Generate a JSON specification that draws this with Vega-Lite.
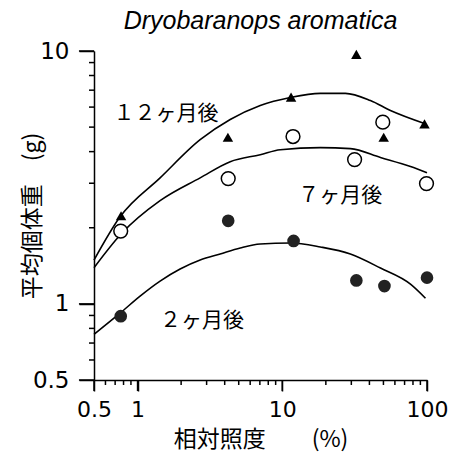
{
  "$schema": "https://vega.github.io/schema/vega-lite/v6.json",
  "width": 333,
  "height": 329,
  "autosize": {"type": "none"},
  "padding": {"left": 94, "top": 51, "right": 26, "bottom": 82},
  "background": "white",
  "title": {
    "text": "Dryobaranops aromatica",
    "font": "Liberation Sans",
    "fontStyle": "italic",
    "fontWeight": "normal",
    "fontSize": 25,
    "color": "black",
    "anchor": "middle",
    "offset": 6
  },
  "config": {
    "view": {"stroke": null},
    "axis": {
      "grid": false,
      "labelColor": "black",
      "titleColor": "black",
      "tickColor": "black"
    }
  },
  "resolve": {"axis": {"x": "independent", "y": "independent"}},
  "datasets": {
    "curves": [
      {"series": "12", "x": 0.5, "y": 1.49},
      {"series": "12", "x": 0.757, "y": 2.21},
      {"series": "12", "x": 1.431, "y": 3.15},
      {"series": "12", "x": 2.707, "y": 4.46},
      {"series": "12", "x": 4.367, "y": 5.36},
      {"series": "12", "x": 7.042, "y": 6.09},
      {"series": "12", "x": 11.36, "y": 6.55},
      {"series": "12", "x": 18.32, "y": 6.8},
      {"series": "12", "x": 27.29, "y": 6.8},
      {"series": "12", "x": 40.64, "y": 6.37},
      {"series": "12", "x": 55.9, "y": 5.82},
      {"series": "12", "x": 96.1, "y": 5.17},
      {"series": "7", "x": 0.5, "y": 1.39},
      {"series": "7", "x": 0.769, "y": 1.89},
      {"series": "7", "x": 1.431, "y": 2.56},
      {"series": "7", "x": 2.707, "y": 3.15},
      {"series": "7", "x": 4.367, "y": 3.65},
      {"series": "7", "x": 7.042, "y": 3.89},
      {"series": "7", "x": 9.687, "y": 4.07},
      {"series": "7", "x": 18.32, "y": 4.15},
      {"series": "7", "x": 29.55, "y": 4.11},
      {"series": "7", "x": 47.68, "y": 3.79},
      {"series": "7", "x": 76.88, "y": 3.49},
      {"series": "7", "x": 100, "y": 3.3},
      {"series": "2", "x": 0.5, "y": 0.758},
      {"series": "2", "x": 0.757, "y": 0.919},
      {"series": "2", "x": 1.041, "y": 1.073},
      {"series": "2", "x": 1.431, "y": 1.23},
      {"series": "2", "x": 1.968, "y": 1.373},
      {"series": "2", "x": 2.707, "y": 1.49},
      {"series": "2", "x": 3.724, "y": 1.575},
      {"series": "2", "x": 5.121, "y": 1.663},
      {"series": "2", "x": 7.042, "y": 1.725},
      {"series": "2", "x": 11.36, "y": 1.741},
      {"series": "2", "x": 18.32, "y": 1.679},
      {"series": "2", "x": 29.55, "y": 1.575},
      {"series": "2", "x": 47.68, "y": 1.386},
      {"series": "2", "x": 76.88, "y": 1.197},
      {"series": "2", "x": 97.6, "y": 1.053}
    ],
    "tri": [
      {"x": 0.769, "y": 2.23},
      {"x": 4.21, "y": 4.56},
      {"x": 11.5, "y": 6.57},
      {"x": 32.5, "y": 9.7},
      {"x": 50.2, "y": 4.56},
      {"x": 96.1, "y": 5.15}
    ],
    "open": [
      {"x": 0.765, "y": 1.94},
      {"x": 4.23, "y": 3.13},
      {"x": 11.86, "y": 4.59},
      {"x": 31.6, "y": 3.72},
      {"x": 49.5, "y": 5.23},
      {"x": 99.2, "y": 2.99}
    ],
    "filled": [
      {"x": 0.765, "y": 0.894},
      {"x": 4.23, "y": 2.13},
      {"x": 11.97, "y": 1.774},
      {"x": 32.5, "y": 1.238},
      {"x": 50.8, "y": 1.176},
      {"x": 100, "y": 1.27}
    ],
    "labels": [
      {"x": 1.574, "y": 5.66, "text": "１２ヶ月後"},
      {"x": 25.2, "y": 2.68, "text": "７ヶ月後"},
      {"x": 2.79, "y": 0.854, "text": "２ヶ月後"}
    ],
    "xticks": [
      {"v": 0.5, "kind": "major"}, {"v": 1, "kind": "major"}, {"v": 10, "kind": "major"}, {"v": 100, "kind": "major"},
      {"v": 0.6, "kind": "minor"}, {"v": 0.7, "kind": "minor"}, {"v": 0.8, "kind": "minor"}, {"v": 0.9, "kind": "minor"},
      {"v": 2, "kind": "minor"}, {"v": 3, "kind": "minor"}, {"v": 4, "kind": "minor"}, {"v": 5, "kind": "minor"},
      {"v": 6, "kind": "minor"}, {"v": 7, "kind": "minor"}, {"v": 8, "kind": "minor"}, {"v": 9, "kind": "minor"},
      {"v": 20, "kind": "minor"}, {"v": 30, "kind": "minor"}, {"v": 40, "kind": "minor"}, {"v": 50, "kind": "minor"},
      {"v": 60, "kind": "minor"}, {"v": 70, "kind": "minor"}, {"v": 80, "kind": "minor"}, {"v": 90, "kind": "minor"}
    ],
    "yticks": [
      {"v": 0.5, "kind": "major"}, {"v": 1, "kind": "major"}, {"v": 10, "kind": "major"},
      {"v": 0.6, "kind": "minor"}, {"v": 0.7, "kind": "minor"}, {"v": 0.8, "kind": "minor"}, {"v": 0.9, "kind": "minor"},
      {"v": 2, "kind": "minor"}, {"v": 3, "kind": "minor"}, {"v": 4, "kind": "minor"}, {"v": 5, "kind": "minor"},
      {"v": 6, "kind": "minor"}, {"v": 7, "kind": "minor"}, {"v": 8, "kind": "minor"}, {"v": 9, "kind": "minor"}
    ]
  },
  "layer": [
    {
      "data": {"name": "curves"},
      "mark": {"type": "line", "color": "black", "strokeWidth": 1.6, "interpolate": "monotone"},
      "encoding": {
        "x": {
          "field": "x", "type": "quantitative",
          "scale": {"type": "log", "domain": [0.5, 100], "nice": false},
          "axis": {
            "orient": "bottom",
            "title": "相対照度　　(%)",
            "titleFont": "Noto Sans CJK JP",
            "titleFontSize": 23,
            "titleFontWeight": "normal",
            "titlePadding": 8,
            "values": [0.5, 1, 10, 100],
            "labelExpr": "datum.value == 0.5 ? '0.5' : datum.value == 1 ? '1' : datum.value == 10 ? '10' : '100'",
            "labelFont": "DejaVu Sans",
            "labelFontSize": 22,
            "labelPadding": 8,
            "labelOverlap": false,
            "labelFlush": false,
            "domainColor": "black",
            "domainWidth": 1.5,
            "tickColor": "black",
            "tickWidth": 1.5,
            "tickSize": 11
          }
        },
        "y": {
          "field": "y", "type": "quantitative",
          "scale": {"type": "log", "domain": [0.5, 10], "nice": false},
          "axis": {
            "orient": "left",
            "title": "平均個体重　(g)",
            "titleFont": "Noto Sans CJK JP",
            "titleFontSize": 23,
            "titleFontWeight": "normal",
            "titlePadding": -12,
            "values": [0.5, 1, 10],
            "labelExpr": "datum.value == 0.5 ? '0.5' : datum.value == 1 ? '1' : '10'",
            "labelFont": "DejaVu Sans",
            "labelFontSize": 23,
            "labelPadding": 10,
            "labelOverlap": false,
            "labelFlush": false,
            "domainColor": "black",
            "domainWidth": 1.5,
            "tickColor": "black",
            "tickWidth": 1.5,
            "tickSize": 15
          }
        },
        "detail": {"field": "series"}
      }
    },
    {
      "data": {"name": "xticks"},
      "transform": [{"filter": "datum.kind == 'major'"}],
      "mark": {"type": "rule", "color": "black", "strokeWidth": 1.5, "clip": false},
      "encoding": {
        "x": {"field": "v", "type": "quantitative", "axis": null},
        "y": {"datum": 0.5, "type": "quantitative", "axis": null},
        "y2": {"datum": 0.4524}
      }
    },
    {
      "data": {"name": "xticks"},
      "transform": [{"filter": "datum.kind == 'minor'"}],
      "mark": {"type": "rule", "color": "black", "strokeWidth": 1.5, "clip": false},
      "encoding": {
        "x": {"field": "v", "type": "quantitative", "axis": null},
        "y": {"datum": 0.5, "type": "quantitative", "axis": null},
        "y2": {"datum": 0.4778}
      }
    },
    {
      "data": {"name": "yticks"},
      "transform": [{"filter": "datum.kind == 'major'"}],
      "mark": {"type": "rule", "color": "black", "strokeWidth": 1.5, "clip": false},
      "encoding": {
        "y": {"field": "v", "type": "quantitative", "axis": null},
        "x": {"datum": 0.5, "type": "quantitative", "axis": null},
        "x2": {"datum": 0.3935}
      }
    },
    {
      "data": {"name": "yticks"},
      "transform": [{"filter": "datum.kind == 'minor'"}],
      "mark": {"type": "rule", "color": "black", "strokeWidth": 1.5, "clip": false},
      "encoding": {
        "y": {"field": "v", "type": "quantitative", "axis": null},
        "x": {"datum": 0.5, "type": "quantitative", "axis": null},
        "x2": {"datum": 0.4617}
      }
    },
    {
      "data": {"name": "tri"},
      "mark": {"type": "point", "shape": "triangle-up", "filled": true, "color": "black", "size": 110, "opacity": 1},
      "encoding": {
        "x": {"field": "x", "type": "quantitative", "axis": null},
        "y": {"field": "y", "type": "quantitative", "axis": null}
      }
    },
    {
      "data": {"name": "open"},
      "mark": {"type": "point", "shape": "circle", "filled": false, "fill": "white", "stroke": "black", "strokeWidth": 1.5, "size": 190, "opacity": 1},
      "encoding": {
        "x": {"field": "x", "type": "quantitative", "axis": null},
        "y": {"field": "y", "type": "quantitative", "axis": null}
      }
    },
    {
      "data": {"name": "filled"},
      "mark": {"type": "point", "shape": "circle", "filled": true, "color": "#222222", "size": 160, "opacity": 1},
      "encoding": {
        "x": {"field": "x", "type": "quantitative", "axis": null},
        "y": {"field": "y", "type": "quantitative", "axis": null}
      }
    },
    {
      "data": {"name": "labels"},
      "mark": {"type": "text", "font": "Noto Sans CJK JP", "fontSize": 21, "color": "black", "align": "center", "baseline": "middle"},
      "encoding": {
        "x": {"field": "x", "type": "quantitative", "axis": null},
        "y": {"field": "y", "type": "quantitative", "axis": null},
        "text": {"field": "text"}
      }
    }
  ]
}
